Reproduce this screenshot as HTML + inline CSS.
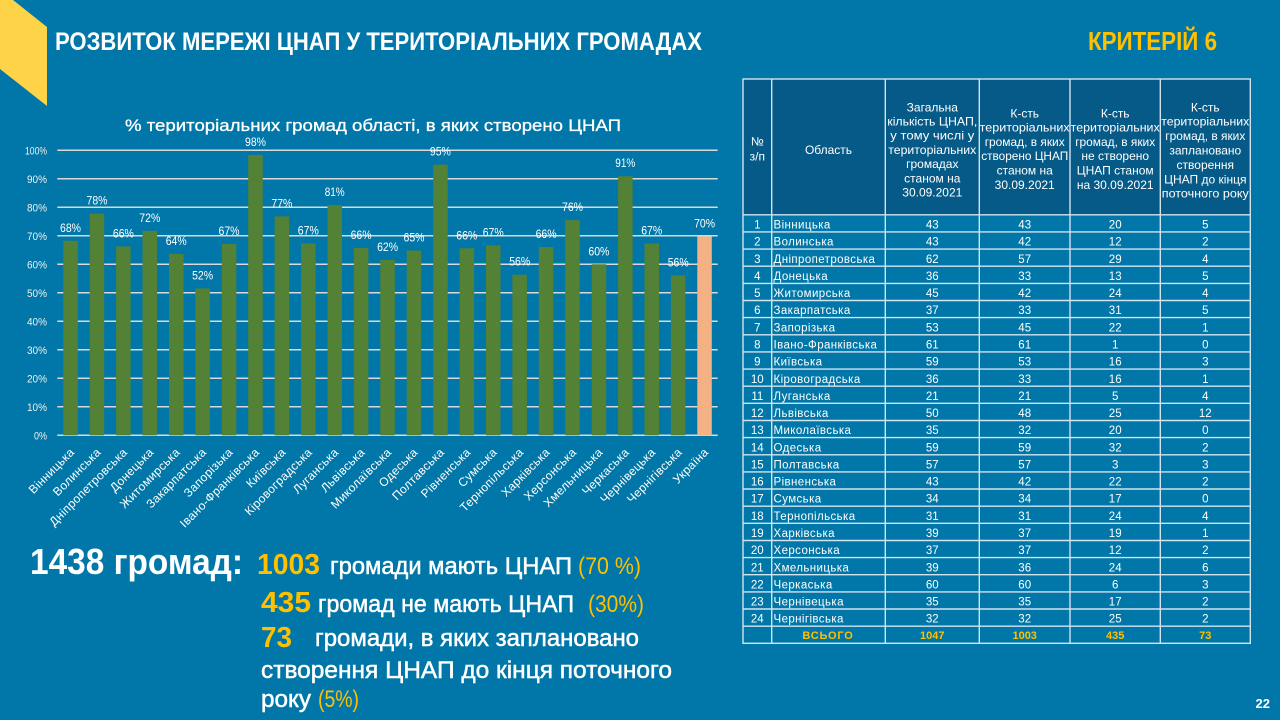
<!DOCTYPE html>
<html lang="uk">
<head>
<meta charset="utf-8">
<title>Розвиток мережі ЦНАП</title>
<style>
  html,body{margin:0;padding:0;background:#0077a8;}
  body{width:1280px;height:720px;overflow:hidden;}
  svg{display:block;font-family:"Liberation Sans","DejaVu Sans",sans-serif;}
</style>
</head>
<body>
<svg width="1280" height="720" viewBox="0 0 1280 720" xmlns="http://www.w3.org/2000/svg">
  <rect x="0" y="0" width="1280" height="720" fill="#0077a8"/>
  <!-- yellow corner shape -->
  <polygon points="0,0 13,0 47,27 47,106 0,69" fill="#ffd347"/>

  <!-- header -->
  <text x="55" y="50" font-size="25" font-weight="bold" fill="#ffffff" textLength="647" lengthAdjust="spacingAndGlyphs">РОЗВИТОК МЕРЕЖІ ЦНАП У ТЕРИТОРІАЛЬНИХ ГРОМАДАХ</text>
  <text x="1088" y="50" font-size="26" font-weight="bold" fill="#ffc000" textLength="129" lengthAdjust="spacingAndGlyphs">КРИТЕРІЙ 6</text>

  <!-- chart title -->
  <text x="125" y="131" font-size="17" fill="#ffffff" stroke="#ffffff" stroke-width="0.3" textLength="496" lengthAdjust="spacingAndGlyphs">% територіальних громад області, в яких створено ЦНАП</text>

  <!-- gridlines -->
  <g stroke="#d9d9d9" stroke-width="1.5">
    <line x1="57.3" y1="435.3" x2="717.7" y2="435.3"/>
    <line x1="57.3" y1="406.8" x2="717.7" y2="406.8"/>
    <line x1="57.3" y1="378.3" x2="717.7" y2="378.3"/>
    <line x1="57.3" y1="349.8" x2="717.7" y2="349.8"/>
    <line x1="57.3" y1="321.3" x2="717.7" y2="321.3"/>
    <line x1="57.3" y1="292.8" x2="717.7" y2="292.8"/>
    <line x1="57.3" y1="264.3" x2="717.7" y2="264.3"/>
    <line x1="57.3" y1="235.8" x2="717.7" y2="235.8"/>
    <line x1="57.3" y1="207.3" x2="717.7" y2="207.3"/>
    <line x1="57.3" y1="178.8" x2="717.7" y2="178.8"/>
    <line x1="57.3" y1="150.3" x2="717.7" y2="150.3"/>
  </g>

  <!-- y-axis labels -->
  <g font-size="11" fill="#f0f0f0" text-anchor="end">
    <text x="47" y="439.3" textLength="13" lengthAdjust="spacingAndGlyphs">0%</text>
    <text x="47" y="410.8" textLength="20" lengthAdjust="spacingAndGlyphs">10%</text>
    <text x="47" y="382.3" textLength="20" lengthAdjust="spacingAndGlyphs">20%</text>
    <text x="47" y="353.8" textLength="20" lengthAdjust="spacingAndGlyphs">30%</text>
    <text x="47" y="325.3" textLength="20" lengthAdjust="spacingAndGlyphs">40%</text>
    <text x="47" y="296.8" textLength="20" lengthAdjust="spacingAndGlyphs">50%</text>
    <text x="47" y="268.3" textLength="20" lengthAdjust="spacingAndGlyphs">60%</text>
    <text x="47" y="239.8" textLength="20" lengthAdjust="spacingAndGlyphs">70%</text>
    <text x="47" y="211.3" textLength="20" lengthAdjust="spacingAndGlyphs">80%</text>
    <text x="47" y="182.8" textLength="20" lengthAdjust="spacingAndGlyphs">90%</text>
    <text x="47" y="154.3" textLength="22" lengthAdjust="spacingAndGlyphs">100%</text>
  </g>

  <!-- bars -->
  <g fill="#538135">
    <rect x="63.3" y="240.8" width="14.5" height="194.5"/>
    <rect x="89.7" y="213.6" width="14.5" height="221.7"/>
    <rect x="116.1" y="246.4" width="14.5" height="188.9"/>
    <rect x="142.5" y="230.8" width="14.5" height="204.5"/>
    <rect x="169.0" y="253.9" width="14.5" height="181.4"/>
    <rect x="195.4" y="288.4" width="14.5" height="146.9"/>
    <rect x="221.8" y="243.9" width="14.5" height="191.4"/>
    <rect x="248.2" y="154.9" width="14.5" height="280.4"/>
    <rect x="274.6" y="216.4" width="14.5" height="218.9"/>
    <rect x="301.1" y="243.4" width="14.5" height="191.9"/>
    <rect x="327.5" y="205.1" width="14.5" height="230.2"/>
    <rect x="353.9" y="247.9" width="14.5" height="187.4"/>
    <rect x="380.3" y="259.9" width="14.5" height="175.4"/>
    <rect x="406.7" y="250.5" width="14.5" height="184.8"/>
    <rect x="433.2" y="164.6" width="14.5" height="270.7"/>
    <rect x="459.6" y="248.3" width="14.5" height="187.0"/>
    <rect x="486.0" y="245.3" width="14.5" height="190.0"/>
    <rect x="512.4" y="274.7" width="14.5" height="160.6"/>
    <rect x="538.8" y="247.0" width="14.5" height="188.3"/>
    <rect x="565.2" y="220.1" width="14.5" height="215.2"/>
    <rect x="591.7" y="264.3" width="14.5" height="171.0"/>
    <rect x="618.1" y="176.2" width="14.5" height="259.1"/>
    <rect x="644.5" y="243.5" width="14.5" height="191.8"/>
    <rect x="670.9" y="275.3" width="14.5" height="160.0"/>
  </g>
  <rect x="697.3" y="236.5" width="14.5" height="198.8" fill="#f4b183"/>

  <!-- data labels -->
  <g font-size="12" fill="#ffffff" text-anchor="middle">
    <text x="70.5" y="231.8" textLength="21" lengthAdjust="spacingAndGlyphs">68%</text>
    <text x="97.0" y="204.6" textLength="21" lengthAdjust="spacingAndGlyphs">78%</text>
    <text x="123.4" y="237.4" textLength="21" lengthAdjust="spacingAndGlyphs">66%</text>
    <text x="149.8" y="221.8" textLength="21" lengthAdjust="spacingAndGlyphs">72%</text>
    <text x="176.2" y="244.9" textLength="21" lengthAdjust="spacingAndGlyphs">64%</text>
    <text x="202.6" y="279.4" textLength="21" lengthAdjust="spacingAndGlyphs">52%</text>
    <text x="229.0" y="234.9" textLength="21" lengthAdjust="spacingAndGlyphs">67%</text>
    <text x="255.5" y="145.9" textLength="21" lengthAdjust="spacingAndGlyphs">98%</text>
    <text x="281.9" y="207.4" textLength="21" lengthAdjust="spacingAndGlyphs">77%</text>
    <text x="308.3" y="234.4" textLength="21" lengthAdjust="spacingAndGlyphs">67%</text>
    <text x="334.7" y="196.1" textLength="20" lengthAdjust="spacingAndGlyphs">81%</text>
    <text x="361.1" y="238.9" textLength="21" lengthAdjust="spacingAndGlyphs">66%</text>
    <text x="387.6" y="250.9" textLength="21" lengthAdjust="spacingAndGlyphs">62%</text>
    <text x="414.0" y="241.5" textLength="21" lengthAdjust="spacingAndGlyphs">65%</text>
    <text x="440.4" y="155.6" textLength="21" lengthAdjust="spacingAndGlyphs">95%</text>
    <text x="466.8" y="239.3" textLength="21" lengthAdjust="spacingAndGlyphs">66%</text>
    <text x="493.2" y="236.3" textLength="21" lengthAdjust="spacingAndGlyphs">67%</text>
    <text x="519.7" y="265.7" textLength="21" lengthAdjust="spacingAndGlyphs">56%</text>
    <text x="546.1" y="238.0" textLength="21" lengthAdjust="spacingAndGlyphs">66%</text>
    <text x="572.5" y="211.1" textLength="21" lengthAdjust="spacingAndGlyphs">76%</text>
    <text x="598.9" y="255.3" textLength="21" lengthAdjust="spacingAndGlyphs">60%</text>
    <text x="625.3" y="167.2" textLength="20" lengthAdjust="spacingAndGlyphs">91%</text>
    <text x="651.7" y="234.5" textLength="21" lengthAdjust="spacingAndGlyphs">67%</text>
    <text x="678.2" y="266.3" textLength="21" lengthAdjust="spacingAndGlyphs">56%</text>
    <text x="704.6" y="227.5" textLength="21" lengthAdjust="spacingAndGlyphs">70%</text>
  </g>

  <!-- x-axis labels -->
  <g font-size="12" fill="#ffffff" text-anchor="end" letter-spacing="0.3">
    <text transform="translate(75,453) rotate(-45)">Вінницька</text>
    <text transform="translate(101.5,453) rotate(-45)">Волинська</text>
    <text transform="translate(127.9,453) rotate(-45)">Дніпропетровська</text>
    <text transform="translate(154.3,453) rotate(-45)">Донецька</text>
    <text transform="translate(180.7,453) rotate(-45)">Житомирська</text>
    <text transform="translate(207.1,453) rotate(-45)">Закарпатська</text>
    <text transform="translate(233.5,453) rotate(-45)">Запорізька</text>
    <text transform="translate(260.0,453) rotate(-45)">Івано-Франківська</text>
    <text transform="translate(286.4,453) rotate(-45)">Київська</text>
    <text transform="translate(312.8,453) rotate(-45)">Кіровоградська</text>
    <text transform="translate(339.2,453) rotate(-45)">Луганська</text>
    <text transform="translate(365.6,453) rotate(-45)">Львівська</text>
    <text transform="translate(392.1,453) rotate(-45)">Миколаївська</text>
    <text transform="translate(418.5,453) rotate(-45)">Одеська</text>
    <text transform="translate(444.9,453) rotate(-45)">Полтавська</text>
    <text transform="translate(471.3,453) rotate(-45)">Рівненська</text>
    <text transform="translate(497.7,453) rotate(-45)">Сумська</text>
    <text transform="translate(524.2,453) rotate(-45)">Тернопільська</text>
    <text transform="translate(550.6,453) rotate(-45)">Харківська</text>
    <text transform="translate(577.0,453) rotate(-45)">Херсонська</text>
    <text transform="translate(603.4,453) rotate(-45)">Хмельницька</text>
    <text transform="translate(629.8,453) rotate(-45)">Черкаська</text>
    <text transform="translate(656.2,453) rotate(-45)">Чернівецька</text>
    <text transform="translate(682.7,453) rotate(-45)">Чернігівська</text>
    <text transform="translate(709.1,453) rotate(-45)">Україна</text>
  </g>

  <!-- bottom summary text -->
  <g>
    <text x="30" y="574" font-size="36" font-weight="bold" fill="#ffffff" textLength="213" lengthAdjust="spacingAndGlyphs">1438 громад:</text>
    <text x="257" y="574" font-size="29" font-weight="bold" fill="#ffc000" textLength="63" lengthAdjust="spacingAndGlyphs">1003</text>
    <text x="330" y="574" font-size="24" fill="#ffffff" stroke="#ffffff" stroke-width="0.5" textLength="242" lengthAdjust="spacingAndGlyphs">громади мають ЦНАП</text>
    <text x="578" y="574" font-size="24" fill="#ffc000" textLength="63" lengthAdjust="spacingAndGlyphs">(70 %)</text>

    <text x="261" y="612" font-size="29" font-weight="bold" fill="#ffc000" textLength="50" lengthAdjust="spacingAndGlyphs">435</text>
    <text x="318" y="612" font-size="24" fill="#ffffff" stroke="#ffffff" stroke-width="0.5" textLength="256" lengthAdjust="spacingAndGlyphs">громад не мають ЦНАП</text>
    <text x="588" y="612" font-size="24" fill="#ffc000" textLength="56" lengthAdjust="spacingAndGlyphs">(30%)</text>

    <text x="261" y="647" font-size="29" font-weight="bold" fill="#ffc000" textLength="31" lengthAdjust="spacingAndGlyphs">73</text>
    <text x="315" y="646" font-size="24" fill="#ffffff" stroke="#ffffff" stroke-width="0.5" textLength="324" lengthAdjust="spacingAndGlyphs">громади, в яких заплановано</text>
    <text x="261" y="678" font-size="24" fill="#ffffff" stroke="#ffffff" stroke-width="0.5" textLength="411" lengthAdjust="spacingAndGlyphs">створення ЦНАП до кінця поточного</text>
    <text x="261" y="707" font-size="24" fill="#ffffff" stroke="#ffffff" stroke-width="0.5" textLength="50" lengthAdjust="spacingAndGlyphs">року</text>
    <text x="318" y="707" font-size="24" fill="#ffc000" textLength="41" lengthAdjust="spacingAndGlyphs">(5%)</text>
  </g>

  <!-- page number -->
  <text x="1270" y="708" font-size="13" font-weight="bold" fill="#ffffff" text-anchor="end">22</text>

  <!-- TABLE -->
  <rect x="743" y="79" width="507.3" height="135.8" fill="#065a87"/>
  <rect x="743" y="214.8" width="507.3" height="428.5" fill="#0077a8"/>

  <!-- header text -->
  <g font-size="12" fill="#ffffff" text-anchor="middle">
    <text x="757.3" y="145.7">№</text>
    <text x="757.3" y="160.7">з/п</text>
    <text x="828.5" y="154">Область</text>

    <text x="932.3" y="111.3">Загальна</text>
    <text x="932.3" y="125.5" textLength="90" lengthAdjust="spacingAndGlyphs">кількість ЦНАП,</text>
    <text x="932.3" y="139.7" textLength="84" lengthAdjust="spacingAndGlyphs">у тому числі у</text>
    <text x="932.3" y="153.9" textLength="88" lengthAdjust="spacingAndGlyphs">територіальних</text>
    <text x="932.3" y="168.1">громадах</text>
    <text x="932.3" y="182.3">станом на</text>
    <text x="932.3" y="196.5">30.09.2021</text>

    <text x="1024.7" y="117.3">К-сть</text>
    <text x="1024.7" y="131.6" textLength="90" lengthAdjust="spacingAndGlyphs">територіальних</text>
    <text x="1024.7" y="145.9" textLength="80" lengthAdjust="spacingAndGlyphs">громад, в яких</text>
    <text x="1024.7" y="160.2" textLength="87" lengthAdjust="spacingAndGlyphs">створено ЦНАП</text>
    <text x="1024.7" y="174.5">станом на</text>
    <text x="1024.7" y="188.8">30.09.2021</text>

    <text x="1115.2" y="117.3">К-сть</text>
    <text x="1115.2" y="131.6" textLength="89" lengthAdjust="spacingAndGlyphs">територіальних</text>
    <text x="1115.2" y="145.9" textLength="80" lengthAdjust="spacingAndGlyphs">громад, в яких</text>
    <text x="1115.2" y="160.2">не створено</text>
    <text x="1115.2" y="174.5">ЦНАП станом</text>
    <text x="1115.2" y="188.8">на 30.09.2021</text>

    <text x="1205.3" y="111.3">К-сть</text>
    <text x="1205.3" y="125.7" textLength="88" lengthAdjust="spacingAndGlyphs">територіальних</text>
    <text x="1205.3" y="140.1" textLength="80" lengthAdjust="spacingAndGlyphs">громад, в яких</text>
    <text x="1205.3" y="154.5">заплановано</text>
    <text x="1205.3" y="168.9">створення</text>
    <text x="1205.3" y="183.3">ЦНАП до кінця</text>
    <text x="1205.3" y="197.7" textLength="87" lengthAdjust="spacingAndGlyphs">поточного року</text>
  </g>

  <!-- table grid lines -->
  <g stroke="#d3e3ee" stroke-width="1.4" fill="none">
    <rect x="743" y="79" width="507.3" height="564.3"/>
    <line x1="771.7" y1="79" x2="771.7" y2="643.3"/>
    <line x1="885.3" y1="79" x2="885.3" y2="643.3"/>
    <line x1="979.3" y1="79" x2="979.3" y2="643.3"/>
    <line x1="1070" y1="79" x2="1070" y2="643.3"/>
    <line x1="1160.3" y1="79" x2="1160.3" y2="643.3"/>
    <line x1="743" y1="214.8" x2="1250.3" y2="214.8"/>
    <line x1="743" y1="231.9" x2="1250.3" y2="231.9"/>
    <line x1="743" y1="249.1" x2="1250.3" y2="249.1"/>
    <line x1="743" y1="266.2" x2="1250.3" y2="266.2"/>
    <line x1="743" y1="283.4" x2="1250.3" y2="283.4"/>
    <line x1="743" y1="300.5" x2="1250.3" y2="300.5"/>
    <line x1="743" y1="317.6" x2="1250.3" y2="317.6"/>
    <line x1="743" y1="334.8" x2="1250.3" y2="334.8"/>
    <line x1="743" y1="351.9" x2="1250.3" y2="351.9"/>
    <line x1="743" y1="369.1" x2="1250.3" y2="369.1"/>
    <line x1="743" y1="386.2" x2="1250.3" y2="386.2"/>
    <line x1="743" y1="403.3" x2="1250.3" y2="403.3"/>
    <line x1="743" y1="420.5" x2="1250.3" y2="420.5"/>
    <line x1="743" y1="437.6" x2="1250.3" y2="437.6"/>
    <line x1="743" y1="454.8" x2="1250.3" y2="454.8"/>
    <line x1="743" y1="471.9" x2="1250.3" y2="471.9"/>
    <line x1="743" y1="489.0" x2="1250.3" y2="489.0"/>
    <line x1="743" y1="506.2" x2="1250.3" y2="506.2"/>
    <line x1="743" y1="523.3" x2="1250.3" y2="523.3"/>
    <line x1="743" y1="540.5" x2="1250.3" y2="540.5"/>
    <line x1="743" y1="557.6" x2="1250.3" y2="557.6"/>
    <line x1="743" y1="574.7" x2="1250.3" y2="574.7"/>
    <line x1="743" y1="591.9" x2="1250.3" y2="591.9"/>
    <line x1="743" y1="609.0" x2="1250.3" y2="609.0"/>
    <line x1="743" y1="626.2" x2="1250.3" y2="626.2"/>
  </g>

  <!-- row numbers -->
  <g font-size="11.5" fill="#ffffff" text-anchor="middle">
    <text x="757.3" y="228.5">1</text>
    <text x="757.3" y="245.6">2</text>
    <text x="757.3" y="262.8">3</text>
    <text x="757.3" y="279.9">4</text>
    <text x="757.3" y="297.1">5</text>
    <text x="757.3" y="314.2">6</text>
    <text x="757.3" y="331.3">7</text>
    <text x="757.3" y="348.5">8</text>
    <text x="757.3" y="365.6">9</text>
    <text x="757.3" y="382.8">10</text>
    <text x="757.3" y="399.9">11</text>
    <text x="757.3" y="417.0">12</text>
    <text x="757.3" y="434.2">13</text>
    <text x="757.3" y="451.3">14</text>
    <text x="757.3" y="468.5">15</text>
    <text x="757.3" y="485.6">16</text>
    <text x="757.3" y="502.7">17</text>
    <text x="757.3" y="519.9">18</text>
    <text x="757.3" y="537.0">19</text>
    <text x="757.3" y="554.2">20</text>
    <text x="757.3" y="571.3">21</text>
    <text x="757.3" y="588.4">22</text>
    <text x="757.3" y="605.6">23</text>
    <text x="757.3" y="622.7">24</text>
  </g>

  <!-- region names -->
  <g font-size="11.5" fill="#ffffff" letter-spacing="0.4">
    <text x="773.5" y="228.5">Вінницька</text>
    <text x="773.5" y="245.6">Волинська</text>
    <text x="773.5" y="262.8">Дніпропетровська</text>
    <text x="773.5" y="279.9">Донецька</text>
    <text x="773.5" y="297.1">Житомирська</text>
    <text x="773.5" y="314.2">Закарпатська</text>
    <text x="773.5" y="331.3">Запорізька</text>
    <text x="773.5" y="348.5">Івано-Франківська</text>
    <text x="773.5" y="365.6">Київська</text>
    <text x="773.5" y="382.8">Кіровоградська</text>
    <text x="773.5" y="399.9">Луганська</text>
    <text x="773.5" y="417.0">Львівська</text>
    <text x="773.5" y="434.2">Миколаївська</text>
    <text x="773.5" y="451.3">Одеська</text>
    <text x="773.5" y="468.5">Полтавська</text>
    <text x="773.5" y="485.6">Рівненська</text>
    <text x="773.5" y="502.7">Сумська</text>
    <text x="773.5" y="519.9">Тернопільська</text>
    <text x="773.5" y="537.0">Харківська</text>
    <text x="773.5" y="554.2">Херсонська</text>
    <text x="773.5" y="571.3">Хмельницька</text>
    <text x="773.5" y="588.4">Черкаська</text>
    <text x="773.5" y="605.6">Чернівецька</text>
    <text x="773.5" y="622.7">Чернігівська</text>
  </g>

  <!-- numeric columns -->
  <g font-size="11.5" fill="#ffffff" text-anchor="middle">
    <!-- col 3 -->
    <text x="932.3" y="228.5">43</text>
    <text x="932.3" y="245.6">43</text>
    <text x="932.3" y="262.8">62</text>
    <text x="932.3" y="279.9">36</text>
    <text x="932.3" y="297.1">45</text>
    <text x="932.3" y="314.2">37</text>
    <text x="932.3" y="331.3">53</text>
    <text x="932.3" y="348.5">61</text>
    <text x="932.3" y="365.6">59</text>
    <text x="932.3" y="382.8">36</text>
    <text x="932.3" y="399.9">21</text>
    <text x="932.3" y="417.0">50</text>
    <text x="932.3" y="434.2">35</text>
    <text x="932.3" y="451.3">59</text>
    <text x="932.3" y="468.5">57</text>
    <text x="932.3" y="485.6">43</text>
    <text x="932.3" y="502.7">34</text>
    <text x="932.3" y="519.9">31</text>
    <text x="932.3" y="537.0">39</text>
    <text x="932.3" y="554.2">37</text>
    <text x="932.3" y="571.3">39</text>
    <text x="932.3" y="588.4">60</text>
    <text x="932.3" y="605.6">35</text>
    <text x="932.3" y="622.7">32</text>
    <!-- col 4 -->
    <text x="1024.7" y="228.5">43</text>
    <text x="1024.7" y="245.6">42</text>
    <text x="1024.7" y="262.8">57</text>
    <text x="1024.7" y="279.9">33</text>
    <text x="1024.7" y="297.1">42</text>
    <text x="1024.7" y="314.2">33</text>
    <text x="1024.7" y="331.3">45</text>
    <text x="1024.7" y="348.5">61</text>
    <text x="1024.7" y="365.6">53</text>
    <text x="1024.7" y="382.8">33</text>
    <text x="1024.7" y="399.9">21</text>
    <text x="1024.7" y="417.0">48</text>
    <text x="1024.7" y="434.2">32</text>
    <text x="1024.7" y="451.3">59</text>
    <text x="1024.7" y="468.5">57</text>
    <text x="1024.7" y="485.6">42</text>
    <text x="1024.7" y="502.7">34</text>
    <text x="1024.7" y="519.9">31</text>
    <text x="1024.7" y="537.0">37</text>
    <text x="1024.7" y="554.2">37</text>
    <text x="1024.7" y="571.3">36</text>
    <text x="1024.7" y="588.4">60</text>
    <text x="1024.7" y="605.6">35</text>
    <text x="1024.7" y="622.7">32</text>
    <!-- col 5 -->
    <text x="1115.2" y="228.5">20</text>
    <text x="1115.2" y="245.6">12</text>
    <text x="1115.2" y="262.8">29</text>
    <text x="1115.2" y="279.9">13</text>
    <text x="1115.2" y="297.1">24</text>
    <text x="1115.2" y="314.2">31</text>
    <text x="1115.2" y="331.3">22</text>
    <text x="1115.2" y="348.5">1</text>
    <text x="1115.2" y="365.6">16</text>
    <text x="1115.2" y="382.8">16</text>
    <text x="1115.2" y="399.9">5</text>
    <text x="1115.2" y="417.0">25</text>
    <text x="1115.2" y="434.2">20</text>
    <text x="1115.2" y="451.3">32</text>
    <text x="1115.2" y="468.5">3</text>
    <text x="1115.2" y="485.6">22</text>
    <text x="1115.2" y="502.7">17</text>
    <text x="1115.2" y="519.9">24</text>
    <text x="1115.2" y="537.0">19</text>
    <text x="1115.2" y="554.2">12</text>
    <text x="1115.2" y="571.3">24</text>
    <text x="1115.2" y="588.4">6</text>
    <text x="1115.2" y="605.6">17</text>
    <text x="1115.2" y="622.7">25</text>
    <!-- col 6 -->
    <text x="1205.3" y="228.5">5</text>
    <text x="1205.3" y="245.6">2</text>
    <text x="1205.3" y="262.8">4</text>
    <text x="1205.3" y="279.9">5</text>
    <text x="1205.3" y="297.1">4</text>
    <text x="1205.3" y="314.2">5</text>
    <text x="1205.3" y="331.3">1</text>
    <text x="1205.3" y="348.5">0</text>
    <text x="1205.3" y="365.6">3</text>
    <text x="1205.3" y="382.8">1</text>
    <text x="1205.3" y="399.9">4</text>
    <text x="1205.3" y="417.0">12</text>
    <text x="1205.3" y="434.2">0</text>
    <text x="1205.3" y="451.3">2</text>
    <text x="1205.3" y="468.5">3</text>
    <text x="1205.3" y="485.6">2</text>
    <text x="1205.3" y="502.7">0</text>
    <text x="1205.3" y="519.9">4</text>
    <text x="1205.3" y="537.0">1</text>
    <text x="1205.3" y="554.2">2</text>
    <text x="1205.3" y="571.3">6</text>
    <text x="1205.3" y="588.4">3</text>
    <text x="1205.3" y="605.6">2</text>
    <text x="1205.3" y="622.7">2</text>
  </g>

  <!-- totals row -->
  <g font-size="11" font-weight="bold" fill="#ffc000" text-anchor="middle">
    <text x="828" y="639" letter-spacing="0.8">ВСЬОГО</text>
    <text x="932.3" y="639">1047</text>
    <text x="1024.7" y="639">1003</text>
    <text x="1115.2" y="639">435</text>
    <text x="1205.3" y="639">73</text>
  </g>
</svg>
</body>
</html>
